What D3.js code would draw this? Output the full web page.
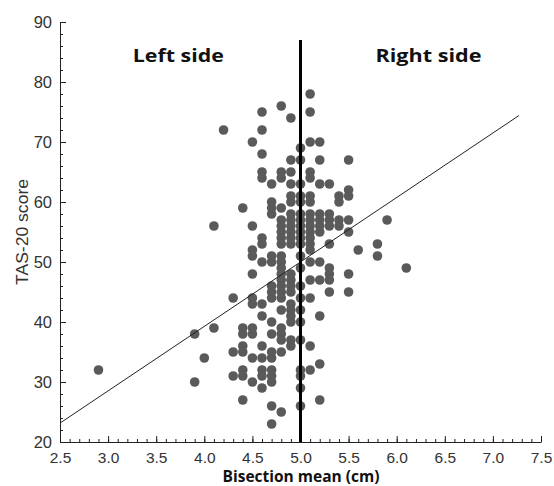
<!DOCTYPE html>
<html>
<head>
<meta charset="utf-8">
<script src="https://cdn.jsdelivr.net/npm/d3@7"></script>
<style>
  html, body { margin: 0; padding: 0; background: #fff; }
  svg { display: block; }
</style>
</head>
<body>
<svg id="chart" width="554" height="486"></svg>
<script>
// ---- Data ----
// Each column: bisection mean (cm) and the TAS-20 scores found at that value
const columnX = [2.9, 3.9, 4.0, 4.1, 4.2, 4.3, 4.4, 4.5, 4.6, 4.7, 4.8, 4.9, 5.0, 5.1, 5.2, 5.3, 5.4, 5.5, 5.6, 5.8, 5.9, 6.1];
const columnScores = [
  [32],
  [38, 30],
  [34],
  [56, 39],
  [72],
  [44, 35, 31],
  [59, 39, 38, 36, 35, 32, 31, 27],
  [70, 56, 52, 51, 48, 44, 43, 39, 38, 34, 30],
  [75, 72, 68, 65, 64, 54, 53, 50, 43, 41, 36, 34, 32, 31, 29],
  [63, 60, 59, 58, 51, 50, 46, 45, 44, 40, 38, 35, 34, 32, 31, 30, 26, 23],
  [76, 65, 64, 59, 57, 56, 55, 54, 53, 51, 50, 49, 48, 47, 46, 45, 44, 42, 39, 38, 37, 35, 25],
  [74, 67, 65, 63, 61, 60, 58, 57, 56, 55, 54, 53, 48, 47, 46, 45, 43, 42, 41, 40, 37, 36],
  [69, 67, 63, 61, 60, 58, 57, 56, 55, 54, 53, 51, 49, 46, 44, 42, 40, 37, 32, 31, 29, 26],
  [78, 75, 70, 65, 64, 61, 60, 58, 57, 56, 55, 54, 53, 52, 50, 47, 44, 36, 32],
  [70, 67, 63, 58, 57, 56, 55, 50, 47, 41, 33, 27],
  [63, 58, 57, 56, 53, 49, 48, 47, 45],
  [61, 60, 57, 56],
  [67, 62, 61, 57, 55, 48, 45],
  [52],
  [53, 51],
  [57],
  [49]
];
// Fitted regression line (endpoints)
const fitX = [2.5, 7.27];
const fitY = [23.15, 74.4];
// Dividing line at the midpoint
const midX = 5.0;
const midY = [20, 87];
// Axis ticks
const xTicks = [2.5, 3.0, 3.5, 4.0, 4.5, 5.0, 5.5, 6.0, 6.5, 7.0, 7.5];
const yTicks = [20, 30, 40, 50, 60, 70, 80, 90];
const xMinorTicks = d3.range(25, 76, 1).map(v => v / 10);
const yMinorTicks = d3.range(20, 91, 2);
// Labels
const sideLabels = ["Left side", "Right side"];
const sideLabelX = [3.73, 6.33];
const xTitle = "Bisection mean (cm)";
const yTitle = "TAS-20 score";

// ---- Build points ----
const points = [];
columnX.forEach((x, i) => columnScores[i].forEach(y => points.push({x, y})));

// ---- Drawing ----
const svg = d3.select("#chart");
const x = d3.scaleLinear().domain([2.5, 7.5]).range([60, 541]);
const y = d3.scaleLinear().domain([20, 90]).range([442, 22]);

const axisColor = "#222";
const tickFont = "Liberation Sans, Arial, sans-serif";

// x axis
const gx = svg.append("g").attr("transform", `translate(0,${y(20)})`);
gx.call(d3.axisBottom(x).tickValues(xMinorTicks).tickSize(-3).tickFormat(""))
  .call(g => g.select(".domain").remove());
gx.append("g").call(d3.axisBottom(x).tickValues(xTicks).tickSize(-6).tickSizeOuter(0).tickFormat(d3.format(".1f")).tickPadding(10));
gx.selectAll("line").attr("stroke", axisColor);
gx.selectAll(".domain").attr("stroke", axisColor);
gx.selectAll("text").attr("font-family", tickFont).attr("font-size", 15.5).attr("fill", "#333");

// y axis
const gy = svg.append("g").attr("transform", `translate(${x(2.5)},0)`);
gy.call(d3.axisLeft(y).tickValues(yMinorTicks).tickSize(-3).tickFormat(""))
  .call(g => g.select(".domain").remove());
gy.append("g").call(d3.axisLeft(y).tickValues(yTicks).tickSize(-6).tickSizeOuter(0).tickPadding(8));
gy.selectAll("line").attr("stroke", axisColor);
gy.selectAll(".domain").attr("stroke", axisColor);
gy.selectAll("text").attr("font-family", tickFont).attr("font-size", 16.5).attr("fill", "#333");

// points
svg.append("g").selectAll("circle").data(points).join("circle")
  .attr("cx", d => x(d.x)).attr("cy", d => y(d.y)).attr("r", 4.8)
  .attr("fill", "#5a5a5a");

// regression line
svg.append("line")
  .attr("x1", x(fitX[0])).attr("y1", y(fitY[0]))
  .attr("x2", x(fitX[1])).attr("y2", y(fitY[1]))
  .attr("stroke", "#222").attr("stroke-width", 1);

// midline
svg.append("line")
  .attr("x1", x(midX)).attr("x2", x(midX))
  .attr("y1", y(midY[0])).attr("y2", y(midY[1]))
  .attr("stroke", "#000").attr("stroke-width", 3);

// side labels
const sideWidths = [91, 106];
svg.append("g").selectAll("text").data(sideLabels).join("text")
  .attr("x", (d, i) => x(sideLabelX[i])).attr("y", 62)
  .attr("text-anchor", "middle")
  .attr("font-family", "Open Sans, sans-serif").attr("font-weight", "bold")
  .attr("font-size", 17.5).attr("fill", "#111")
  .attr("textLength", (d, i) => sideWidths[i]).attr("lengthAdjust", "spacingAndGlyphs")
  .text(d => d);

// x title
svg.append("text").attr("x", 301).attr("y", 482).attr("text-anchor", "middle")
  .attr("font-family", "Open Sans, sans-serif").attr("font-weight", "bold")
  .attr("font-size", 15.5).attr("fill", "#111").text(xTitle);

// y title
svg.append("text").attr("transform", `translate(28,232) rotate(-90)`)
  .attr("text-anchor", "middle")
  .attr("font-family", tickFont).attr("font-size", 16).attr("fill", "#333")
  .attr("textLength", 106).attr("lengthAdjust", "spacingAndGlyphs")
  .text(yTitle);
</script>
</body>
</html>
